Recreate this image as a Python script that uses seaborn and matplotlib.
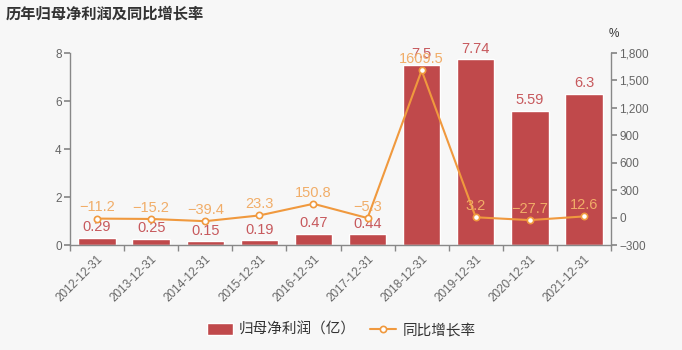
import numpy as np
import pandas as pd
import matplotlib
matplotlib.use("Agg")
import matplotlib.pyplot as plt
import seaborn as sns
from matplotlib.ticker import FuncFormatter, FixedLocator

categories = ["2012-12-31", "2013-12-31", "2014-12-31", "2015-12-31", "2016-12-31",
              "2017-12-31", "2018-12-31", "2019-12-31", "2020-12-31", "2021-12-31"]
profit = [0.29, 0.25, 0.15, 0.19, 0.47, 0.44, 7.5, 7.74, 5.59, 6.3]
growth = [-11.2, -15.2, -39.4, 23.3, 150.8, -5.3, 1609.5, 3.2, -27.7, 12.6]
profit_labels = ["0.29", "0.25", "0.15", "0.19", "0.47", "0.44", "7.5", "7.74", "5.59", "6.3"]
growth_labels = ["−11.2", "−15.2", "−39.4", "23.3", "150.8", "−5.3", "1609.5", "3.2", "−27.7", "12.6"]

sns.set_theme(style="white")
plt.rcParams['font.family'] = ['Liberation Sans', 'Noto Sans CJK SC', 'DejaVu Sans']
plt.rcParams['axes.unicode_minus'] = True

BG = "#f7f7f7"
BAR = "#c0494b"
LINE = "#f0993e"
GRAY = "#666666"
AX = "#888888"

fig = plt.figure(figsize=(6.82, 3.5), dpi=100, facecolor=BG)
ax = fig.add_axes([70/682, 1-245/350, (611-70)/682, (245-53)/350])
ax.set_facecolor(BG)

df = pd.DataFrame({"date": categories, "profit": profit})
sns.barplot(data=df, x="date", y="profit", order=categories, color=BAR,
            saturation=1, width=0.69, ax=ax, label="归母净利润（亿）")
ax.set_ylim(0, 8)
ax.set_xlim(-0.5, len(categories) - 0.5)
ax.set_yticks([0, 2, 4, 6, 8])
ax.set_xlabel("")
ax.set_ylabel("")

for i, (v, t) in enumerate(zip(profit, profit_labels)):
    ax.text(i, v + 0.15, t, ha="center", va="bottom", fontsize=10.5, color="#c7595d")

ax2 = ax.twinx()
x_pos = np.arange(len(categories))
sns.lineplot(x=x_pos, y=growth, ax=ax2, color=LINE, linewidth=1.5, marker="o",
             markersize=4.5, markerfacecolor="white", markeredgecolor=LINE,
             markeredgewidth=1.2, label="同比增长率")
ax2.set_ylim(-300, 1800)
ax2.set_yticks(np.arange(-300, 1801, 300))
ax2.yaxis.set_major_formatter(FuncFormatter(lambda v, p: f"{int(v):,}".replace("-", "−")))
for i, (v, t) in enumerate(zip(growth, growth_labels)):
    ax2.text(i, v + 45, t, ha="center", va="bottom", fontsize=10.5, color="#f1ad68")

# spines / ticks
for a in (ax, ax2):
    a.spines["top"].set_visible(False)
    for s in ("left", "right", "bottom"):
        a.spines[s].set_color(AX)
        a.spines[s].set_linewidth(1.0)
ax.spines["right"].set_visible(False)
ax2.spines["left"].set_visible(False)
ax2.spines["bottom"].set_visible(False)

ax.tick_params(axis="y", left=True, length=4, color=AX, labelsize=8.5, labelcolor=GRAY, pad=2)
ax2.tick_params(axis="y", right=True, length=4, color=AX, labelsize=8.5, labelcolor=GRAY, pad=2)
ax.set_xticks(x_pos)
ax.set_xticklabels(categories, rotation=45, ha="right", rotation_mode="anchor",
                   fontsize=8.5, color=GRAY)
ax.tick_params(axis="x", bottom=True, length=0, pad=6)
ax.xaxis.set_minor_locator(FixedLocator(np.arange(-0.5, len(categories), 1.0)))
ax.tick_params(axis="x", which="minor", bottom=True, length=4, color=AX)

ax2.text(1.005, 1.07, "%", transform=ax2.transAxes, ha="center", va="bottom",
         fontsize=8.5, color="#333333")

# legend
ax.get_legend().remove() if ax.get_legend() else None
ax2.get_legend().remove() if ax2.get_legend() else None
h1, l1 = ax.get_legend_handles_labels()
h2, l2 = ax2.get_legend_handles_labels()
leg = fig.legend(h1 + h2, l1 + l2, loc="center", bbox_to_anchor=(0.5, 1-330/350),
                 ncol=2, frameon=False, fontsize=10.5, handlelength=1.8,
                 handleheight=0.9, columnspacing=1.0, handletextpad=0.4)
for t in leg.get_texts():
    t.set_color("#333333")

fig.text(6/682, 1-14/350, "历年归母净利润及同比增长率", ha="left", va="center",
         fontsize=11, fontweight="bold", color="#333333")

fig.savefig("out.png", dpi=100, facecolor=BG)
